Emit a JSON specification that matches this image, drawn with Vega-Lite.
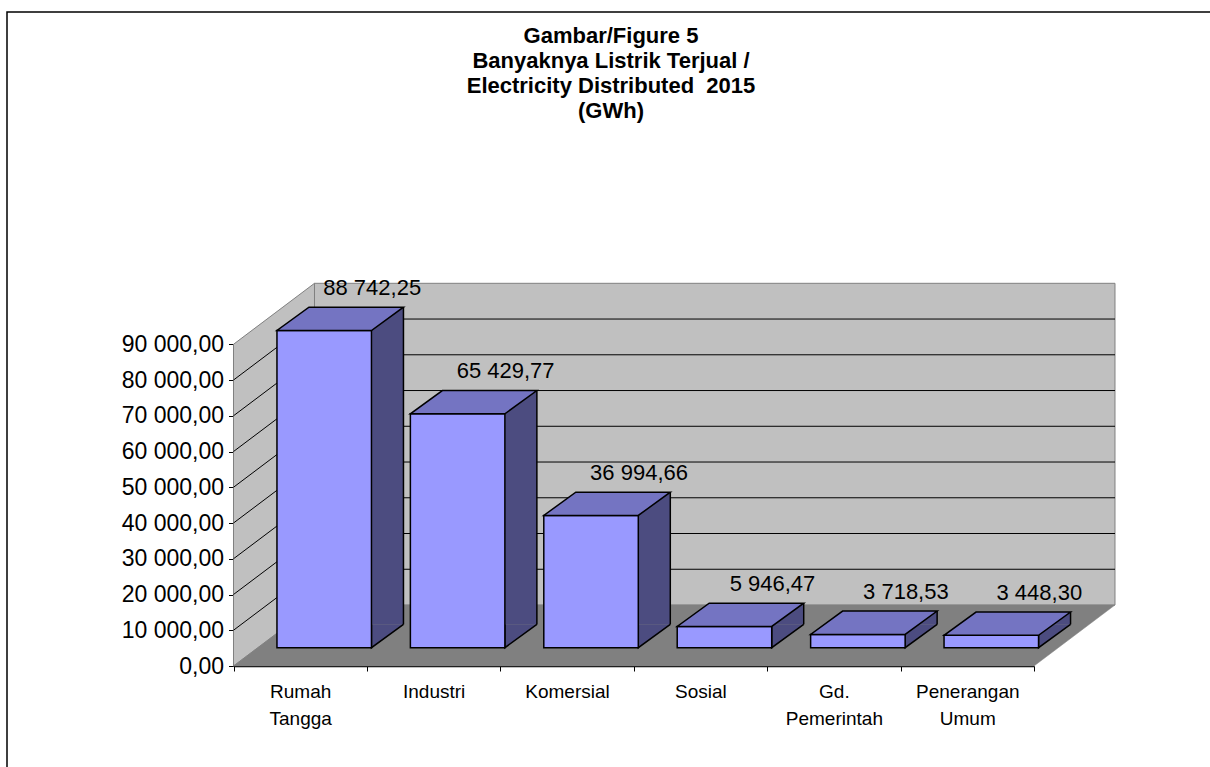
{
  "$schema": "https://vega.github.io/schema/vega-lite/v6.json",
  "width": 1208,
  "height": 760,
  "autosize": {"type": "none"},
  "padding": {"left": 7, "top": 12, "right": -5, "bottom": -5},
  "background": "#ffffff",
  "config": {
    "locale": {"number": {"decimal": ",", "thousands": " ", "grouping": [3], "currency": ["", ""]}},
    "view": {"stroke": "#000000", "strokeWidth": 1.5},
    "font": "Liberation Sans",
    "axis": {"labelFont": "Liberation Sans", "labelColor": "#000000", "grid": false, "title": null}
  },
  "title": {
    "text": ["Gambar/Figure 5", "Banyaknya Listrik Terjual /", "Electricity Distributed\u00a0 2015", "(GWh)"],
    "anchor": "middle",
    "frame": "group",
    "font": "Liberation Sans",
    "fontSize": 22,
    "fontWeight": "bold",
    "lineHeight": 25,
    "color": "#000000",
    "offset": -111
  },
  "data": {"values": [
    {"category": "Rumah Tangga", "value": 88742.25},
    {"category": "Industri", "value": 65429.77},
    {"category": "Komersial", "value": 36994.66},
    {"category": "Sosial", "value": 5946.47},
    {"category": "Gd. Pemerintah", "value": 3718.53},
    {"category": "Penerangan Umum", "value": 3448.30}
  ]},
  "encoding": {
    "x": {
      "field": "category", "type": "nominal",
      "scale": {"type": "band", "domain": ["Rumah Tangga", "Industri", "Komersial", "Sosial", "Gd. Pemerintah", "Penerangan Umum"], "range": [226.5, 1027], "paddingInner": 0, "paddingOuter": 0},
      "axis": {
        "orient": "bottom", "offset": -106, "tickBand": "extent", "tickSize": 5, "tickColor": "#000000", "tickWidth": 1,
        "domainColor": "#000000", "domainWidth": 1.5, "labelAngle": 0, "labelFontSize": 19, "labelLineHeight": 27.5,
        "labelPadding": 11, "labelOverlap": false, "labelFlush": false,
        "labelExpr": "split(datum.label, ' ')"
      }
    },
    "y": {
      "field": "value", "type": "quantitative",
      "scale": {"domain": [0, 90000], "range": [654, 332.3], "nice": false, "zero": true},
      "axis": {
        "orient": "left", "offset": -226.5, "values": [0, 10000, 20000, 30000, 40000, 50000, 60000, 70000, 80000, 90000],
        "format": ",.2f", "labelFontSize": 23, "labelPadding": 5, "tickSize": 5, "tickColor": "#000000", "tickWidth": 1,
        "domainColor": "#000000", "domainWidth": 1.5, "labelOverlap": false, "labelFlush": false
      }
    }
  },
  "layer": [
    {
      "transform": [{"filter": "datum.category === 'Rumah Tangga'"}],
      "mark": {"type": "point", "shape": "M14.29,-61 L814.79,-61 L814.79,-382.7 L14.29,-382.7 Z", "size": 4, "filled": true, "opacity": 1, "fill": "#C0C0C0", "stroke": "#808080", "strokeWidth": 1},
      "encoding": {"y": {"datum": 0}}
    },
    {
      "transform": [{"filter": "datum.category === 'Rumah Tangga'"}],
      "mark": {"type": "point", "shape": "M-66.71,0 L-66.71,-321.7 L14.29,-382.7 L14.29,-61 Z", "size": 4, "filled": true, "opacity": 1, "fill": "#C0C0C0", "stroke": "#808080", "strokeWidth": 1},
      "encoding": {"y": {"datum": 0}}
    },
    {
      "transform": [{"filter": "datum.category === 'Rumah Tangga'"}],
      "mark": {"type": "point", "shape": "M-66.71,0 L733.79,0 L814.79,-61 L14.29,-61 Z", "size": 4, "filled": true, "opacity": 1, "fill": "#808080", "stroke": "#808080", "strokeWidth": 0.5},
      "encoding": {"y": {"datum": 0}}
    },
    {
      "data": {"values": [{"g": 10000}, {"g": 20000}, {"g": 30000}, {"g": 40000}, {"g": 50000}, {"g": 60000}, {"g": 70000}, {"g": 80000}]},
      "mark": {"type": "rule", "color": "#000000", "strokeWidth": 1, "xOffset": -66.71, "x2Offset": 14.29, "yOffset": 0, "y2Offset": -61},
      "encoding": {"x": {"datum": "Rumah Tangga"}, "x2": {"datum": "Rumah Tangga"}, "y": {"field": "g", "type": "quantitative"}, "y2": {"field": "g"}}
    },
    {
      "data": {"values": [{"g": 10000}, {"g": 20000}, {"g": 30000}, {"g": 40000}, {"g": 50000}, {"g": 60000}, {"g": 70000}, {"g": 80000}]},
      "mark": {"type": "rule", "color": "#000000", "strokeWidth": 1, "xOffset": 14.29, "x2Offset": 814.79, "yOffset": -61, "y2Offset": -61},
      "encoding": {"x": {"datum": "Rumah Tangga"}, "x2": {"datum": "Rumah Tangga"}, "y": {"field": "g", "type": "quantitative"}, "y2": {"field": "g"}}
    },
    {
      "mark": {"type": "bar", "width": 32, "xOffset": 87.25, "yOffset": -41.6, "y2Offset": -41.6, "fill": "#4C4C80", "strokeWidth": 0}
    },
    {
      "mark": {"type": "point", "shape": "M103.25,-41.6 L71.25,-18.3 L71.25,-41.6", "size": 4, "filled": true, "opacity": 1, "fill": "#4C4C80", "stroke": "#000000", "strokeWidth": 1.5},
      "encoding": {"y": {"datum": 0}}
    },
    {
      "mark": {"type": "rule", "color": "#000000", "strokeWidth": 1.5, "xOffset": 103.25, "yOffset": -41.6, "y2Offset": -41.6},
      "encoding": {"y2": {"datum": 0}}
    },
    {
      "mark": {"type": "bar", "width": 94.5, "xOffset": 24, "yOffset": -18.3, "y2Offset": -18.3, "fill": "#9999FF", "stroke": "#000000", "strokeWidth": 1.5}
    },
    {
      "mark": {"type": "point", "shape": "M-23.25,-18.3 L71.25,-18.3 L103.25,-41.6 L8.75,-41.6 Z", "size": 4, "filled": true, "opacity": 1, "fill": "#7474C2", "stroke": "#000000", "strokeWidth": 1.5}
    },
    {
      "mark": {"type": "text", "xOffset": 72, "yOffset": -61, "fontSize": 22, "font": "Liberation Sans", "baseline": "middle", "align": "center", "color": "#000000"},
      "encoding": {"text": {"field": "value", "type": "quantitative", "format": ",.2f"}}
    }
  ]
}
